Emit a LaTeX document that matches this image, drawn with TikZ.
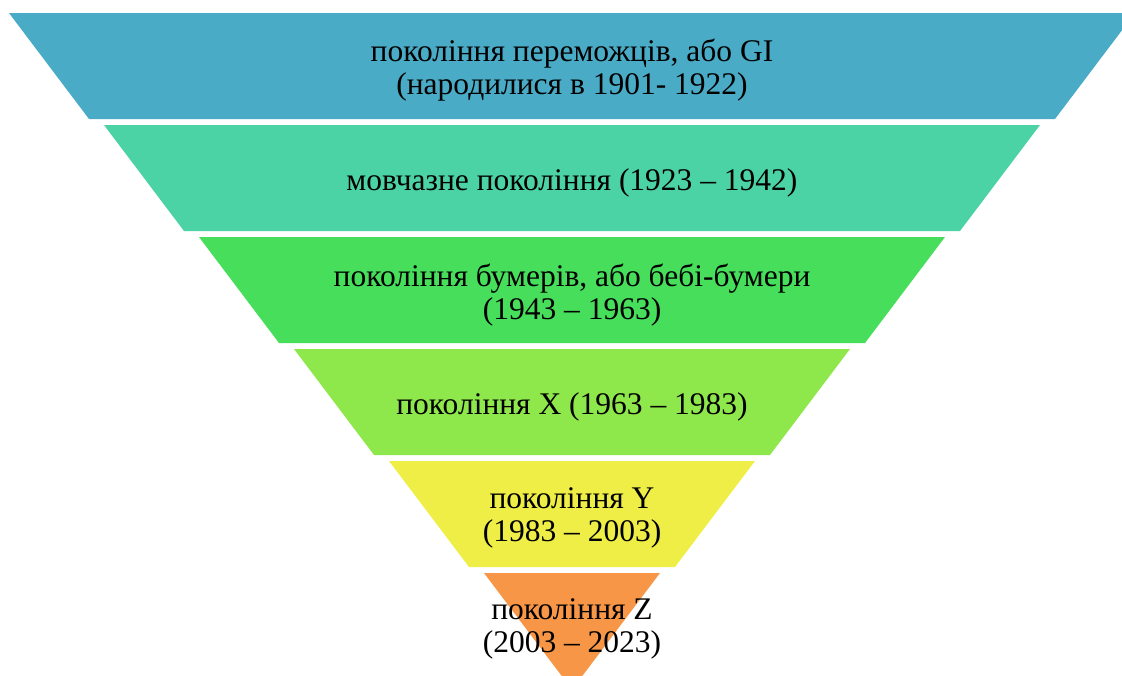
\documentclass[tikz,border=0pt]{standalone}
\usepackage{fontspec}
\setmainfont{Liberation Serif}
\definecolor{bandA}{HTML}{4AABC6}
\definecolor{bandB}{HTML}{4BD3A5}
\definecolor{bandC}{HTML}{47DE5B}
\definecolor{bandD}{HTML}{8FE84B}
\definecolor{bandE}{HTML}{EEEE47}
\definecolor{bandF}{HTML}{F79646}
\begin{document}
\begin{tikzpicture}[x=1pt,y=-1pt,
  label/.style={align=center,font=\fontsize{31.5}{33}\selectfont,text=black,inner sep=0pt}]
\useasboundingbox (0,0) rectangle (1122,675);
\clip (0,0) rectangle (1122,675);
% funnel bands: top edge y, height 106, sides slope 80 px inward per band
\foreach \i/\col in {0/bandA,1/bandB,2/bandC,3/bandD,4/bandE,5/bandF}{
  \pgfmathsetmacro{\ty}{13+112*\i}
  \pgfmathsetmacro{\by}{\ty+106}
  \pgfmathsetmacro{\lx}{9+95*\i}
  \pgfmathsetmacro{\rx}{1135-95*\i}
  \fill[\col] (\lx,\ty) -- (\rx,\ty) -- (\rx-80,\by) -- (\lx+80,\by) -- cycle;
}
\node[label] (gi) at (572,70) {покоління переможців, або GI\\(народилися в 1901- 1922)};
\node[label] (silent) at (572,183) {мовчазне покоління (1923 – 1942)};
\node[label] (boomers) at (572,295) {покоління бумерів, або бебі-бумери\\(1943 – 1963)};
\node[label] (genx) at (572,407) {покоління X (1963 – 1983)};
\node[label] (geny) at (572,518) {покоління Y\\(1983 – 2003)};
\node[label] (genz) at (572,629) {покоління Z\\(2003 – 2023)};
\end{tikzpicture}
\end{document}
